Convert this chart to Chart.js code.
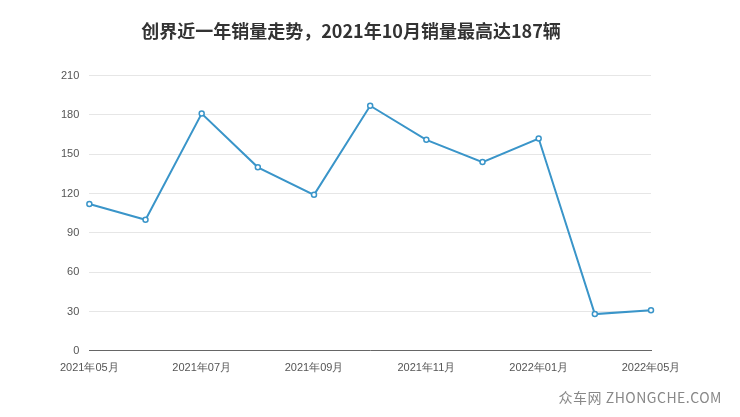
<!DOCTYPE html>
<html>
<head>
<meta charset="utf-8">
<script src="https://cdn.jsdelivr.net/npm/chart.js@4"></script>
<style>
body { margin: 0; background: #fff; }
#wrap { position: relative; width: 740px; height: 417px; }
#mark { position: absolute; right: 18px; bottom: 10px; font: 14px "Noto Sans CJK SC", sans-serif; color: #888; letter-spacing: 0.5px; }
</style>
</head>
<body>
<div id="wrap">
<canvas id="c" width="740" height="417"></canvas>
<div id="mark">众车网 ZHONGCHE.COM</div>
</div>
<script>
const months = ['2021年05月', '2021年06月', '2021年07月', '2021年08月', '2021年09月', '2021年10月',
    '2021年11月', '2021年12月', '2022年01月', '2022年04月', '2022年05月'];
const sales = [112, 100, 181, 140, 119, 187, 161, 144, 162, 28, 31];
const yTicks = [0, 30, 60, 90, 120, 150, 180, 210];

const ctx = document.getElementById('c').getContext('2d');
new Chart(ctx, {
    type: 'line',
    data: {
        labels: months,
        datasets: [{
            data: sales,
            borderColor: '#3a95c9',
            borderWidth: 2,
            pointRadius: 2.5,
            pointBorderWidth: 1.5,
            pointBackgroundColor: '#fff',
            pointBorderColor: '#3a95c9',
            tension: 0
        }]
    },
    options: {
        responsive: false,
        animation: false,
        layout: { padding: { left: 51, right: 89, top: 10, bottom: 39 } },
        plugins: {
            legend: { display: false },
            tooltip: { enabled: false },
            title: {
                display: true,
                text: '创界近一年销量走势，2021年10月销量最高达187辆',
                color: '#333',
                font: { size: 18, weight: 'bold', family: '"Noto Sans CJK SC", sans-serif' },
                padding: { top: 10, bottom: 34 }
            }
        },
        scales: {
            x: {
                offset: false,
                grid: { display: false, drawTicks: true },
                border: { color: '#666' },
                ticks: {
                    autoSkip: false,
                    maxRotation: 0,
                    color: '#555',
                    font: { size: 11 },
                    callback: (v, i) => i % 2 === 0 ? months[i] : ''
                }
            },
            y: {
                min: 0,
                max: 210,
                afterBuildTicks: s => { s.ticks = yTicks.map(v => ({ value: v })); },
                grid: { color: '#e6e6e6', drawTicks: false },
                border: { display: false },
                ticks: { color: '#555', font: { size: 11 }, padding: 10 }
            }
        }
    }
});
</script>
</body>
</html>
